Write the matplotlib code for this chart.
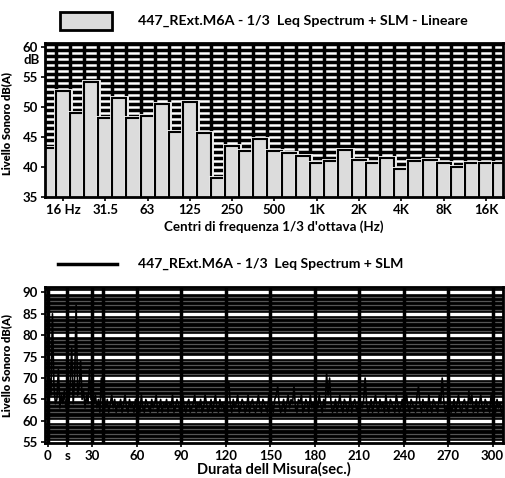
import numpy as np
import matplotlib
matplotlib.use("Agg")
import matplotlib.pyplot as plt
from matplotlib.patches import Rectangle
from matplotlib.lines import Line2D
import matplotlib.patheffects as pe

plt.rcParams['font.family'] = ['Lato', 'DejaVu Sans']
plt.rcParams['font.weight'] = 'bold'

# 1/3 octave spectrum, 12.5 Hz .. 20 kHz
bands = ['12.5', '16', '20', '25', '31.5', '40', '50', '63', '80', '100', '125', '160',
         '200', '250', '315', '400', '500', '630', '800', '1K', '1.25K', '1.6K', '2K',
         '2.5K', '3.15K', '4K', '5K', '6.3K', '8K', '10K', '12.5K', '16K', '20K']
spectrum = [43.2, 52.7, 49.0, 54.2, 48.2, 51.5, 48.2, 48.5, 50.5, 45.8, 50.8, 45.7,
            38.2, 43.5, 42.7, 44.7, 42.7, 42.3, 41.9, 40.7, 41.0, 42.8, 41.2,
            40.7, 41.5, 39.7, 41.0, 41.2, 40.7, 40.0, 40.7, 40.7, 40.7]
band_ticks = ['16 Hz', '31.5', '63', '125', '250', '500', '1K', '2K', '4K', '8K', '16K']

# time history, one value per second
levels = [
    64, 70, 66, 85, 68, 64, 65, 72, 63, 66, 64, 67, 63, 65, 63, 69, 77, 64, 70, 87,
    66, 68, 74, 65, 67, 63, 66, 64, 72, 65, 68, 64, 66, 63, 65, 62, 70, 64, 66, 63,
    65, 62, 64, 66, 63, 65, 62, 64, 63, 65, 62, 64, 66, 63, 62, 65, 63, 64, 62, 65,
    63, 64, 62, 66, 63, 62, 65, 64, 63, 62, 65, 63, 64, 66, 62, 63, 65, 62, 64, 63,
    65, 62, 64, 63, 66, 62, 63, 65, 64, 62, 63, 66, 63, 62, 64, 65, 62, 63, 64, 66,
    62, 64, 63, 65, 62, 63, 66, 64, 62, 63, 65, 62, 64, 66, 63, 62, 65, 63, 64, 62,
    65, 67, 69, 64, 62, 65, 63, 64, 66, 62, 63, 65, 64, 62, 63, 66, 62, 64, 65, 63,
    62, 64, 66, 63, 62, 65, 64, 63, 62, 66, 63, 64, 62, 65, 66, 68, 64, 62, 63, 65,
    62, 64, 66, 63, 65, 64, 68, 63, 62, 65, 64, 66, 62, 63, 65, 64, 62, 66, 63, 64,
    62, 65, 63, 66, 64, 62, 65, 63, 71, 66, 70, 64, 62, 63, 65, 62, 64, 66, 63, 62,
    65, 64, 62, 63, 66, 62, 64, 65, 63, 62, 66, 64, 63, 65, 70, 64, 62, 63, 65, 62,
    64, 66, 63, 62, 65, 63, 64, 62, 66, 63, 62, 65, 64, 63, 62, 66, 64, 62, 63, 65,
    62, 64, 66, 63, 62, 65, 64, 63, 62, 66, 68, 64, 62, 65, 63, 64, 62, 66, 63, 62,
    65, 64, 63, 62, 66, 64, 70, 65, 62, 63, 64, 66, 62, 63, 65, 62, 64, 66, 63, 62,
    64, 65, 63, 62, 67, 64, 66, 62, 63, 65, 62, 64, 66, 63, 62, 65, 64, 63, 62, 66,
    63, 64, 62, 65, 63, 64, 62,
]
time_ticks = [0, 13, 30, 60, 90, 120, 150, 180, 210, 240, 270, 300]
time_labels = ['0', 's', '30', '60', '90', '120', '150', '180', '210', '240', '270', '300']

fig = plt.figure(figsize=(5.06, 4.78), dpi=100)

# ---- spettro ----
ax1 = fig.add_axes([0.089, 0.588, 0.905, 0.322])
ax1.set_facecolor('black')
x = np.arange(len(bands))
for v in range(36, 61):
    ax1.axhline(v, color='white', lw=1.8, zorder=0.5)
for b in x:
    ax1.axvline(b + 0.5, color='black', lw=2.5, zorder=0.6)
bars = ax1.bar(x, spectrum, width=1.0, color='#dcdcdc', edgecolor='black',
               linewidth=1.5, zorder=2)
for bar in bars:
    bar.set_path_effects([pe.Stroke(linewidth=3.5, foreground='#f0f0f0'), pe.Normal()])
ax1.set_xlim(-0.27, 32.2)
ax1.set_ylim(35, 60.7)
ax1.set_yticks([35, 40, 45, 50, 55, 60])
ax1.set_xticks(x[1::3])
ax1.set_xticklabels(band_ticks)
ax1.tick_params(axis='both', labelsize=9.5, length=3, width=1.2, pad=2)
ax1.set_xlabel("Centri di frequenza 1/3 d'ottava (Hz)", fontsize=9.6, weight='bold', labelpad=3)
ax1.set_ylabel('Livello Sonoro dB(A)', fontsize=8, weight='heavy')
ax1.yaxis.set_label_coords(-0.072, 0.48)
ax1.text(-0.012, 0.89, 'dB', transform=ax1.transAxes, ha='right', va='center', fontsize=9.5)
for s in ax1.spines.values():
    s.set_linewidth(2)

fig.patches.append(Rectangle((0.1186, 0.9372), 0.1028, 0.0377, transform=fig.transFigure,
                             facecolor='#dcdcdc', edgecolor='black', lw=2))
fig.text(0.273, 0.957, '447_RExt.M6A - 1/3  Leq Spectrum + SLM - Lineare',
         fontsize=10.3, va='center', ha='left')

# ---- storia temporale ----
ax2 = fig.add_axes([0.089, 0.073, 0.905, 0.326])
ax2.set_facecolor('black')
for v in range(55, 92):
    ax2.axhline(v, color='#555555', lw=0.9, zorder=0.5)
for v in range(55, 95, 5):
    ax2.axhline(v, color='white', lw=2.4, zorder=0.6)
for t in time_ticks + [37]:
    ax2.axvline(t, color='black', lw=2.5, zorder=0.7)
ax2.plot(np.arange(len(levels)), levels, color='black', lw=1.2, zorder=2)
ax2.set_xlim(-2, 307)
ax2.set_ylim(54.8, 91.2)
ax2.set_yticks(range(55, 95, 5))
ax2.set_xticks(time_ticks)
ax2.set_xticklabels(time_labels)
ax2.tick_params(axis='both', labelsize=9.5, length=3, width=1.2, pad=2)
ax2.set_xlabel('Durata dell Misura(sec.)', fontsize=10.5, weight='bold', labelpad=0)
ax2.set_ylabel('Livello Sonoro dB(A)', fontsize=8, weight='heavy')
ax2.yaxis.set_label_coords(-0.072, 0.5)
for s in ax2.spines.values():
    s.set_linewidth(2)

fig.lines.append(Line2D([0.1146, 0.2312], [0.4477, 0.4477], transform=fig.transFigure,
                        color='black', lw=2.5))
fig.text(0.273, 0.4477, '447_RExt.M6A - 1/3  Leq Spectrum + SLM',
         fontsize=10.1, va='center', ha='left')

fig.savefig('out.png', dpi=100)
